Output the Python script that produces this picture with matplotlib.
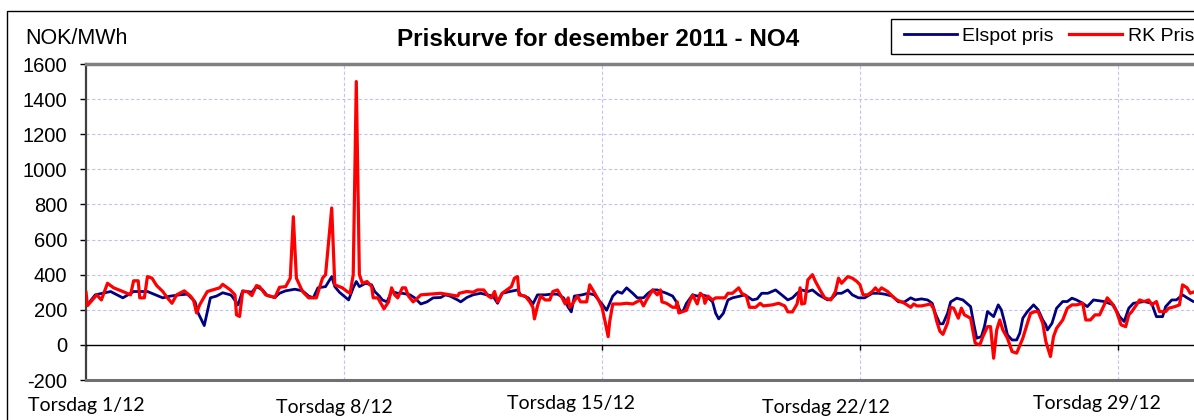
import matplotlib
matplotlib.use("Agg")
import matplotlib.pyplot as plt
import matplotlib.transforms as mtransforms
from matplotlib.patches import Rectangle

# hours since 1/12 00:00 and prices (NOK/MWh)
elspot_h = [0, 1, 6, 16, 24, 31, 40, 50, 55, 61, 66, 71, 73, 77, 81, 85, 89, 94,
            95, 99, 102, 108, 111, 115, 118, 123, 126, 130, 136, 141, 145, 148, 151,
            156, 160, 162, 165, 171, 174, 176, 178, 182, 186, 188, 191, 193, 196, 199,
            203, 206, 211, 214, 218, 222, 226, 231, 234, 237, 242, 244, 248, 252, 257,
            261, 265, 268, 271, 276, 281, 283, 288, 291, 294, 299, 303, 307, 311, 314,
            316, 318, 323, 327, 331, 336, 339, 343, 346, 349, 352, 356, 359, 363, 366,
            369, 372, 378, 382, 385, 387, 389, 391, 395, 398, 401, 404, 408, 410, 412,
            415, 418, 421, 426, 429, 434, 437, 440, 444, 449, 453, 457, 460, 463, 466,
            470, 473, 477, 483, 486, 489, 492, 496, 499, 503, 507, 512, 516, 520, 525,
            529, 533, 537, 540, 544, 548, 551, 553, 556, 558, 561, 563, 567, 571, 576,
            578, 580, 583, 585, 587, 591, 594, 596, 598, 600, 603, 606, 608, 610, 613,
            617, 620, 623, 625, 626, 629, 632, 636, 639, 642, 645, 649, 652, 656, 663,
            669, 673, 676, 679, 682, 689, 694, 695, 697, 701, 703, 707, 710, 714, 717,
            721, 726]
elspot = [247, 228, 285, 304, 268, 304, 304, 268, 278, 285, 289, 245, 182, 110, 268,
          278, 297, 285, 278, 228, 308, 300, 332, 313, 281, 270, 294, 308, 317, 308,
          278, 268, 325, 332, 389, 332, 300, 256, 325, 361, 332, 351, 342, 304, 278,
          256, 245, 304, 294, 294, 285, 268, 233, 245, 268, 270, 285, 278, 256, 245,
          270, 285, 294, 285, 278, 237, 294, 304, 313, 285, 268, 233, 285, 285, 289,
          289, 268, 214, 188, 278, 285, 294, 285, 233, 197, 278, 304, 294, 325, 294,
          268, 268, 294, 313, 313, 294, 278, 237, 188, 197, 237, 285, 278, 285, 278,
          245, 180, 148, 180, 256, 268, 278, 285, 256, 262, 294, 294, 313, 285, 256,
          268, 294, 313, 304, 313, 285, 256, 268, 294, 294, 313, 285, 268, 268, 294,
          294, 289, 278, 245, 245, 268, 256, 262, 256, 237, 180, 120, 120, 180, 245,
          266, 256, 218, 123, 38, 47, 104, 190, 161, 228, 200, 133, 57, 28, 28, 66,
          152, 190, 228, 200, 142, 114, 85, 123, 209, 247, 247, 266, 256, 237, 218,
          256, 247, 228, 161, 133, 209, 237, 247, 237, 209, 161, 161, 218, 256, 256,
          285, 268, 247, 250]

rk_h = [0, 1, 7, 10, 14, 18, 24, 29, 31, 34, 35, 38, 40, 43, 46, 50, 53, 56, 59, 64,
        68, 70, 72, 74, 79, 87, 89, 94, 97, 98, 100, 102, 105, 108, 111, 113, 117, 123,
        126, 130, 133, 135, 137, 141, 145, 150, 154, 156, 160, 162, 167, 170, 172, 174,
        176, 178, 180, 183, 186, 187, 190, 193, 194, 197, 199, 201, 203, 206, 208, 210,
        213, 216, 218, 224, 231, 237, 242, 243, 248, 252, 255, 259, 262, 264, 266, 268,
        271, 274, 277, 279, 281, 282, 286, 289, 291, 292, 294, 296, 299, 302, 304, 307,
        310, 312, 314, 315, 317, 320, 322, 326, 328, 330, 333, 336, 338, 340, 341, 343,
        348, 352, 356, 361, 363, 365, 369, 372, 374, 375, 378, 382, 384, 385, 386, 388,
        391, 393, 395, 398, 400, 402, 403, 405, 408, 410, 416, 418, 421, 425, 427, 430,
        432, 436, 439, 441, 447, 451, 455, 457, 460, 463, 465, 466, 468, 470, 473, 475,
        478, 481, 485, 488, 490, 492, 496, 499, 502, 504, 506, 509, 512, 514, 516, 518,
        522, 525, 528, 533, 537, 539, 541, 544, 550, 552, 554, 556, 558, 561, 563, 565,
        568, 570, 572, 576, 579, 582, 584, 587, 589, 591, 593, 595, 597, 600, 603, 606,
        610, 613, 615, 618, 620, 623, 625, 628, 630, 632, 636, 639, 642, 645, 649, 651,
        654, 657, 660, 663, 665, 668, 671, 674, 677, 679, 681, 684, 686, 689, 692, 694,
        697, 699, 703, 705, 709, 712, 714, 717, 719, 722, 726]
rk = [300, 224, 285, 256, 351, 325, 304, 285, 365, 365, 268, 268, 389, 380, 338, 304,
      268, 237, 285, 308, 278, 256, 182, 228, 304, 325, 345, 313, 285, 171, 162, 304,
      304, 281, 338, 332, 285, 270, 328, 332, 380, 730, 380, 304, 268, 268, 380, 400,
      780, 342, 325, 304, 294, 400, 1500, 400, 351, 361, 332, 268, 268, 222, 205, 245,
      325, 285, 268, 325, 325, 278, 245, 268, 285, 289, 294, 285, 278, 294, 304, 300,
      313, 313, 278, 268, 304, 245, 294, 313, 332, 380, 389, 285, 278, 245, 214, 148,
      222, 278, 256, 256, 304, 313, 268, 233, 268, 214, 237, 278, 245, 245, 342, 313,
      268, 214, 133, 47, 133, 233, 233, 237, 233, 256, 222, 256, 313, 285, 313, 245,
      237, 214, 214, 245, 182, 188, 197, 245, 285, 233, 294, 278, 237, 278, 256, 268,
      268, 294, 294, 325, 294, 278, 214, 214, 237, 222, 228, 237, 222, 188, 188, 233,
      325, 233, 237, 370, 400, 361, 313, 268, 256, 304, 380, 351, 389, 380, 361, 342,
      285, 285, 304, 325, 304, 325, 304, 278, 256, 237, 214, 233, 222, 222, 233, 205,
      133, 78, 60, 125, 214, 209, 152, 209, 171, 152, 10, 0, 47, 104, 104, -76, 85,
      142, 85, 38, -38, -47, 38, 123, 180, 190, 190, 123, 19, -66, 47, 95, 142, 209,
      228, 228, 237, 142, 142, 171, 171, 228, 268, 237, 190, 114, 104, 171, 190, 228,
      256, 247, 256, 228, 247, 190, 190, 209, 218, 228, 342, 325, 294, 304, 300]

week_ticks = [0, 168, 336, 504, 672]
day_labels = ["Torsdag 1/12", "Torsdag 8/12", "Torsdag 15/12", "Torsdag 22/12", "Torsdag 29/12"]
label_x = [0, 162, 316, 482, 658]
label_y = [406, 408, 404, 407, 404]   # pixel rows of the label centres

plt.rcParams['font.family'] = ['Liberation Sans', 'DejaVu Sans']
plt.rcParams['axes.unicode_minus'] = False

W, H = 1194, 420
fig = plt.figure(figsize=(W / 100, H / 100), dpi=100)
ax = fig.add_axes([86 / W, 40 / H, 1142.6 / W, 316 / H])

grid_col = '#c4c4f4'
for y in range(200, 1600, 200):
    ax.axhline(y, color=grid_col, lw=0.8, ls=(0, (3, 2)), zorder=1)
for x in week_ticks[1:]:
    ax.axvline(x, color=grid_col, lw=0.8, ls=(0, (3, 2)), zorder=1)
ax.axhline(-200, color='#707070', lw=2.2, zorder=5, clip_on=False)

ax.plot(elspot_h, elspot, color='#000080', lw=2.0, zorder=3, label='Elspot pris')
ax.plot(rk_h, rk, color='#ff0000', lw=2.3, zorder=4, label='RK Pris')

ax.set_xticks(week_ticks)
ax.set_xlim(0, 744)
ax.set_yticks(range(-200, 1601, 200))
ax.set_ylim(-200, 1600)
ax.tick_params(axis='y', labelsize=14.5, length=4.5, width=1, pad=9, colors='black')
ax.tick_params(axis='x', labelbottom=False, length=3.5, width=1, direction='out')

ax.spines['bottom'].set_position(('data', 0))
ax.spines['bottom'].set_color('black')
ax.spines['bottom'].set_linewidth(1)
ax.spines['top'].set_color('#808080')
ax.spines['top'].set_linewidth(2.5)
ax.spines['left'].set_color('#404040')
ax.spines['left'].set_linewidth(1.6)
ax.spines['right'].set_visible(False)

trans = mtransforms.blended_transform_factory(ax.transData, fig.transFigure)
for lab, lx, ly in zip(day_labels, label_x, label_y):
    ax.text(lx, 1 - ly / H, lab, transform=trans, ha='center', va='center',
            fontsize=14, family=['Lato', 'DejaVu Sans'], clip_on=False)

fig.text(25.7 / W, 1 - 44.3 / H, 'NOK/MWh', fontsize=15.5, ha='left', va='baseline')
fig.text(598 / W, 1 - 45.7 / H, 'Priskurve for desember 2011 - NO4', fontsize=17.5,
         fontweight='bold', ha='center', va='baseline')

# outer chart border and legend box
fig.patches.append(Rectangle((7 / W, -0.1), 2, 0.1 + 1 - 11 / H, transform=fig.transFigure,
                             fill=False, edgecolor='black', lw=1))
fig.patches.append(Rectangle((891 / W, 1 - 54 / H), 1, 35 / H, transform=fig.transFigure,
                             fill=False, edgecolor='black', lw=1))
fig.legend(loc='center left', bbox_to_anchor=(904 / W, 1 - 36.5 / H), ncol=2, frameon=False,
           fontsize=14, handlelength=2.7, handletextpad=0.3, columnspacing=0.8,
           borderpad=0, borderaxespad=0)

fig.savefig('out.png', dpi=100)
